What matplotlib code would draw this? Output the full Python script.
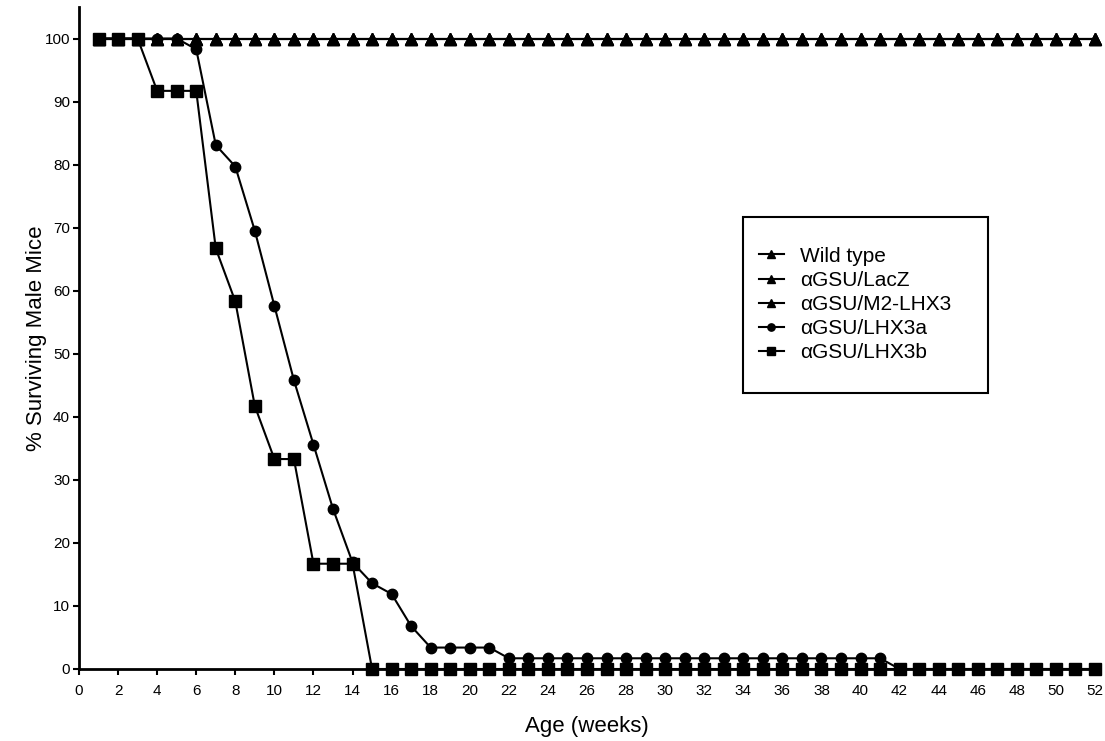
import numpy as np
import matplotlib
matplotlib.use('Agg')
import matplotlib.pyplot as plt
from matplotlib.patches import Rectangle

plt.rcParams['font.family'] = ['Liberation Sans', 'DejaVu Sans']

# 数据：周龄与存活率
weeks = np.arange(1, 53)
wild_type = [100] * 52
gsu_lacz = [100] * 52
gsu_m2 = [100] * 52
gsu_lhx3a = [100, 100, 100, 100, 100, 98.3, 83.1, 79.7, 69.5, 57.6, 45.8, 35.6, 25.4, 16.9,
             13.6, 11.9, 6.8, 3.4, 3.4, 3.4, 3.4] + [1.7] * 20 + [0] * 11
gsu_lhx3b = [100, 100, 100, 91.7, 91.7, 91.7, 66.7, 58.3, 41.7, 33.3, 33.3, 16.7, 16.7, 16.7] + [0] * 38

labels = ['Wild type', 'αGSU/LacZ', 'αGSU/M2-LHX3', 'αGSU/LHX3a', 'αGSU/LHX3b']

fig = plt.figure(figsize=(11.05, 7.41), dpi=100)
ax = fig.add_axes([79 / 1105, 1 - 669 / 741, 1016 / 1105, 662 / 741])

lw = 1.5
# 三角形系列先画，圆形、方形依次覆盖
for y, lab in zip([wild_type, gsu_lacz, gsu_m2], labels[:3]):
    ax.plot(weeks, y, '-^', color='black', lw=lw, ms=9, label=lab, clip_on=False, zorder=3)
ax.plot(weeks, gsu_lhx3a, '-o', color='black', lw=lw, ms=7.5, label=labels[3], clip_on=False, zorder=4)
ax.plot(weeks, gsu_lhx3b, '-s', color='black', lw=lw, ms=8, label=labels[4], clip_on=False, zorder=5)

ax.set_xlim(0, 52)
ax.set_ylim(0, 105)
ax.set_xticks(np.arange(0, 53, 2))
ax.set_yticks(np.arange(0, 101, 10))
ax.tick_params(direction='out', length=4, width=1.5, labelsize=11, color='black')
ax.tick_params(axis='x', pad=7)
ax.tick_params(axis='y', pad=2.5)
for s in ['top', 'right']:
    ax.spines[s].set_visible(False)
for s in ['left', 'bottom']:
    ax.spines[s].set_linewidth(2)

ax.set_xlabel('Age (weeks)', fontsize=16, labelpad=13)
ax.set_ylabel('% Surviving Male Mice', fontsize=16, labelpad=-2)

# 图例：外框单独画
ax.add_patch(Rectangle((0.6535, 0.4169), 0.2412, 0.2659, transform=ax.transAxes,
                       fill=False, edgecolor='black', lw=1.5, zorder=6))
leg = ax.legend(loc='upper left', bbox_to_anchor=(0.669, 0.638), borderpad=0, borderaxespad=0,
                fontsize=15, markerscale=0.7, handlelength=1.2, handletextpad=0.8,
                labelspacing=0.25, frameon=False)

plt.savefig('out.png', dpi=100)
